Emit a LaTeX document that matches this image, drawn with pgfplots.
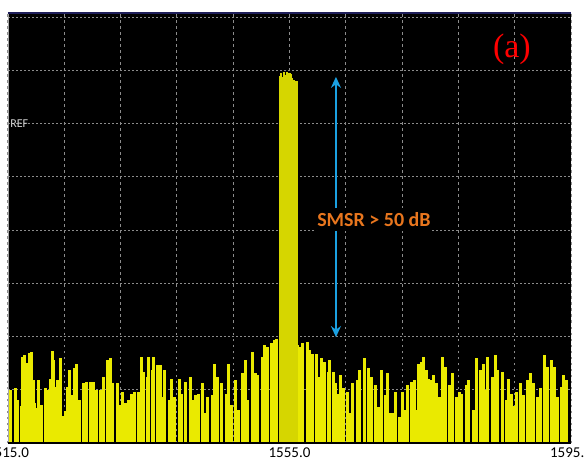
\documentclass[border=0pt]{standalone}
\usepackage{pgfplots}
\pgfplotsset{compat=1.18}
\usetikzlibrary{arrows.meta}
\usepackage{fontspec}
\setmainfont{Carlito}
\newfontfamily\serifa{Liberation Serif}
\definecolor{specyel}{RGB}{234,234,0}
\definecolor{peakyel}{RGB}{214,214,0}
\definecolor{arrowblue}{RGB}{27,161,226}
\definecolor{smsrorange}{RGB}{232,118,30}
\definecolor{gridgray}{RGB}{140,140,140}
\definecolor{topnavy}{RGB}{30,30,90}
\begin{document}
\begin{tikzpicture}
\begin{axis}[
  scale only axis,
  width=563pt, height=430pt,
  xmin=1515, xmax=1595, ymin=0, ymax=80.8,
  axis background/.style={fill=black},
  axis line style={draw=none},
  xtick={1515,1523,...,1595},
  xticklabels={1515.0,,,,,1555.0,,,,,1595.0},
  ytick={10,20,...,80}, yticklabels={},
  major tick length=0pt,
  grid=major,
  x grid style={gridgray, line width=1pt, dash pattern=on 2.5pt off 3.5pt},
  y grid style={gridgray, line width=1pt, dash pattern=on 1.5pt off 2.5pt},
  xticklabel style={font=\fontsize{15}{16}\selectfont, text=black, yshift=-1pt},
  clip=true,
]
% noise floor (side modes)
\addplot[ycomb, specyel, line width=3pt] coordinates {
(1515.3,9.9)(1516.0,10.3)(1516.4,8.1)(1516.9,7.0)(1517.1,16.1)(1517.4,16.5)(1517.7,15.0)
(1518.1,16.9)(1518.4,17.1)(1518.6,11.8)(1518.8,7.5)(1519.1,6.5)(1519.4,11.8)(1519.8,7.1)
(1520.3,10.3)(1520.7,10.0)(1521.0,12.1)(1521.3,17.3)(1521.4,15.6)(1521.7,10.6)(1522.0,11.8)
(1522.4,15.9)(1522.7,5.0)(1523.1,6.0)(1523.4,10.6)(1523.8,13.7)(1524.1,9.0)(1524.4,14.0)
(1524.8,14.9)(1525.2,8.1)(1525.7,11.2)(1526.2,11.5)(1526.7,11.5)(1527.1,11.5)(1527.6,9.9)
(1528.1,9.9)(1528.5,12.4)(1529.1,15.6)(1529.6,15.9)(1529.9,11.2)(1530.5,11.2)(1530.9,7.1)
(1531.3,9.6)(1531.7,7.5)(1532.1,8.1)(1532.6,9.3)(1533.0,9.6)(1533.5,9.6)(1533.9,16.2)
(1534.2,13.4)(1534.8,12.4)(1535.0,16.2)(1535.5,13.7)(1535.7,16.2)(1536.2,14.6)(1536.6,14.6)
(1536.9,8.7)(1537.3,13.7)(1537.9,8.1)(1538.3,12.1)(1538.7,8.7)(1539.3,12.1)(1539.7,9.3)
(1540.2,11.5)(1540.9,12.4)(1541.3,8.1)(1541.6,9.0)(1542.0,9.3)(1542.6,11.2)(1543.0,5.6)
(1543.4,8.7)(1544.0,9.0)(1544.4,14.9)(1544.8,12.4)(1545.4,11.2)(1546.0,9.3)(1546.3,14.9)
(1546.8,7.1)(1547.3,11.8)(1547.7,6.2)(1548.3,13.1)(1548.7,15.6)(1549.1,8.1)(1549.7,17.1)
(1550.1,13.1)(1550.5,12.8)(1551.1,16.2)(1551.5,18.4)(1551.9,18.1)(1552.5,18.7)(1552.9,19.3)
(1553.2,19.6)
(1556.2,18.4)(1556.5,18.1)(1556.9,18.7)(1557.5,19.0)(1557.9,17.4)(1558.3,16.8)(1558.9,16.8)
(1559.3,12.4)(1559.6,15.9)(1560.0,15.3)(1560.5,13.4)(1560.7,15.6)(1561.2,13.4)(1561.6,11.2)
(1561.9,9.3)(1562.3,12.8)(1562.7,10.3)(1563.3,9.6)(1563.7,5.6)(1564.0,11.2)(1564.6,11.8)
(1565.0,13.7)(1565.6,15.9)(1566.2,14.0)(1566.6,12.4)(1567.2,10.9)(1567.7,6.8)(1568.1,13.7)
(1568.6,9.0)(1568.9,13.1)(1569.4,5.6)(1569.7,5.6)(1570.1,9.6)(1570.6,4.9)(1571.1,9.6)
(1571.4,6.2)(1571.8,10.9)(1572.4,11.5)(1572.7,11.8)(1573.1,6.2)(1573.4,14.9)(1573.8,15.3)
(1574.1,16.2)(1574.5,13.7)(1574.8,12.1)(1575.2,11.8)(1575.5,12.8)(1575.9,11.2)(1576.3,8.7)
(1576.8,16.2)(1577.2,14.3)(1577.7,10.9)(1578.2,13.1)(1578.7,8.7)(1579.1,9.6)(1579.5,9.3)
(1580.1,10.9)(1580.5,11.8)(1581.1,6.2)(1581.6,15.9)(1582.1,13.7)(1582.5,14.9)(1583.0,10.0)
(1583.2,16.2)(1583.8,12.4)(1584.2,16.5)(1584.6,13.7)(1585.2,13.4)(1585.8,8.1)(1586.1,12.1)
(1586.6,9.3)(1587.0,7.0)(1587.3,9.6)(1587.8,11.2)(1588.2,9.0)(1588.8,11.8)(1589.2,13.1)
(1589.6,11.2)(1590.2,8.7)(1590.6,10.3)(1591.2,16.5)(1591.6,14.3)(1592.2,15.6)(1592.6,14.3)
(1593.1,8.7)(1593.6,10.6)(1594.0,12.8)(1594.4,11.8)
};
% main lasing mode
\addplot[ycomb, peakyel, line width=2.2pt] coordinates {
(1553.6,69.0)(1553.8,69.6)(1554.0,68.8)(1554.2,69.7)(1554.4,69.2)(1554.6,69.8)(1554.8,69.0)
(1555.0,69.5)(1555.2,69.3)(1555.4,68.5)(1555.6,68.2)(1555.8,68.0)(1556.0,68.1)
};
% SMSR arrow and label
\draw[arrowblue, line width=2.4pt, {Stealth[length=11pt,width=10pt]}-{Stealth[length=11pt,width=10pt]}]
  (axis cs:1561.6,19.9) -- (axis cs:1561.6,68.8);
\node[fill=black, inner xsep=1pt, inner ysep=4pt, text=smsrorange,
  font=\bfseries\fontsize{20}{22}\selectfont] at (axis cs:1567.0,42.0) {SMSR > 50 dB};
\node[text=red] at (axis cs:1586.6,74.0) {\serifa\fontsize{34}{36}\selectfont (a)};
\node[anchor=west, text={rgb,255:red,215;green,215;blue,215}, inner sep=0pt,
  font=\fontsize{12}{13}\selectfont] at (axis cs:1515.3,60) {REF};
% frame
\draw[gray!70, line width=0.8pt] (rel axis cs:0,0) -- (rel axis cs:0,1);
\draw[gray!70, line width=0.8pt] (rel axis cs:1,0) -- (rel axis cs:1,1);
\draw[black, line width=1.5pt] (rel axis cs:0,0) -- (rel axis cs:1,0);
\draw[topnavy, line width=2pt] (rel axis cs:0,1) -- (rel axis cs:1,1);
\end{axis}
\pgfresetboundingbox
\useasboundingbox ([xshift=-8pt,yshift=-14pt]current axis.south west)
  rectangle ([xshift=13pt,yshift=13pt]current axis.north east);
\end{tikzpicture}
\end{document}
